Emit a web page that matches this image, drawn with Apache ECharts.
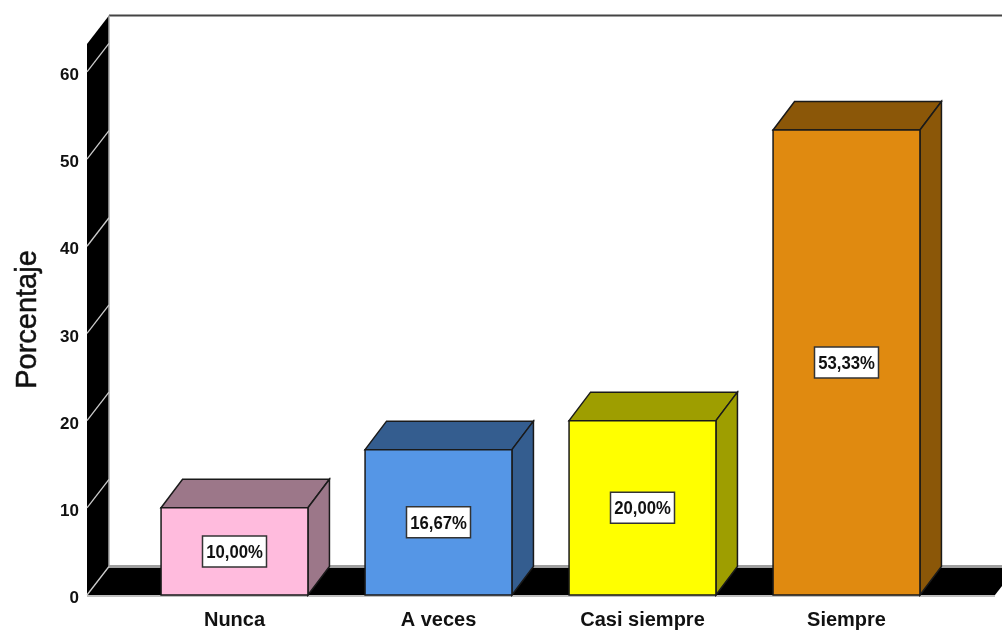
<!DOCTYPE html>
<html><head><meta charset="utf-8">
<style>html,body{margin:0;padding:0;background:#fff}#c{width:1002px;height:631px}</style>
<script src="https://cdn.jsdelivr.net/npm/echarts@6/dist/echarts.min.js"></script>
</head><body><div id="c"></div>
<script>
const categories = ['Nunca','A veces','Casi siempre','Siempre'];
const percentages = [10.00,16.67,20.00,53.33];
const percentLabels = ['10,00%','16,67%','20,00%','53,33%'];
const yTicks = [0,10,20,30,40,50,60];
const faceColors = ['#FFBBDD','#5596E6','#FFFF00','#E08A10'];
const sideColors = ['#9C7789','#345D8F','#9E9E00','#8B5708'];
const wallTop = 63.2, dx = 22, barDx = 21.5, dy = 28.5, wallLeftGap = 45.5, wallRightGap = 46.5;
const sans = '"Liberation Sans",Arial,sans-serif';
const edge = '#1a1a1a';
const chart = echarts.init(document.getElementById('c'));
function poly(points, fill, stroke, lw){
  return {type:'polygon',shape:{points},style:{fill,stroke:stroke||null,lineWidth:lw||0}};
}
function line(a,b,stroke,lw){
  return {type:'line',shape:{x1:a[0],y1:a[1],x2:b[0],y2:b[1]},style:{stroke,lineWidth:lw,fill:null}};
}
chart.setOption({
  animation:false,
  backgroundColor:'#fff',
  grid:{left:132.5,top:44,width:816,height:551,outerBoundsMode:'none'},
  xAxis:{type:'category',data:categories,axisLine:{show:false},axisTick:{show:false},
    axisLabel:{fontFamily:sans,fontWeight:'bold',fontSize:20,color:'#111',margin:15}},
  yAxis:{type:'value',min:0,max:wallTop,interval:10,offset:wallLeftGap,splitLine:{show:false},
    axisLine:{show:false},axisTick:{show:false},
    axisLabel:{customValues:yTicks,fontFamily:sans,fontWeight:'bold',fontSize:17,color:'#111',margin:8,verticalAlign:'top',lineHeight:7},
    name:'Porcentaje',nameLocation:'middle',nameGap:45,nameRotate:90,
    nameTextStyle:{fontFamily:sans,fontSize:29,color:'#111',fontWeight:'normal',textBorderColor:'#111',textBorderWidth:0.5}},
  series:[
    {type:'custom',z:1,silent:true,data:[[0,0]],encode:{x:0,y:1},clip:false,
     renderItem(params,api){
       const cs=params.coordSys, L=cs.x-wallLeftGap, R=cs.x+cs.width+wallRightGap;
       const y0=api.coord([0,0])[1], yT=api.coord([0,wallTop])[1];
       const kids=[
         poly([[L,y0],[L,yT],[L+dx,yT-dy],[L+dx,y0-dy]],'#000'),
         poly([[L,y0],[L+dx,y0-dy],[R+dx,y0-dy],[R,y0]],'#000'),
         line([L+dx,yT-dy],[R+dx,yT-dy],'#444',2),
         line([L+dx,yT-dy],[L+dx,y0-dy],'#aaa',1.5),
         line([L+dx,y0-dy],[R+dx,y0-dy],'#a0a0a0',3),
         line([L,y0+1],[R,y0+1],'#aaa',1.5)
       ];
       yTicks.forEach(v=>{
         const y=api.coord([0,v])[1];
         kids.push(line([L,y],[L+dx,y-dy],'#ccc',1.3));
       });
       return {type:'group',children:kids};
     }},
    {type:'custom',z:2,silent:true,clip:false,
     data:percentages.map((v,i)=>[i,v]),encode:{x:0,y:1},
     renderItem(params,api){
       const i=api.value(0), v=api.value(1);
       const c=api.coord([i,v]), base=api.coord([i,0]);
       const w=api.size([1,0])[0]*0.72;
       const l=c[0]-w/2, r=c[0]+w/2, t=c[1], b=base[1];
       return {type:'group',children:[
         poly([[l,t],[l+barDx,t-dy],[r+barDx,t-dy],[r,t]],sideColors[i],edge,1.5),
         poly([[r,t],[r+barDx,t-dy],[r+barDx,b-dy],[r,b]],sideColors[i],edge,1.5),
         poly([[l,t],[r,t],[r,b],[l,b]],faceColors[i],edge,1.5),
         {type:'rect',shape:{x:c[0]-32,y:(t+b)/2-15.5,width:64,height:31},style:{fill:'#fff',stroke:'#333',lineWidth:1.5}},
         {type:'text',x:c[0],y:(t+b)/2+1,scaleX:0.88,style:{text:percentLabels[i],align:'center',verticalAlign:'middle',
           font:'bold 19px '+sans,fill:'#111'}}
       ]};
     }}
  ]
});
</script></body></html>
